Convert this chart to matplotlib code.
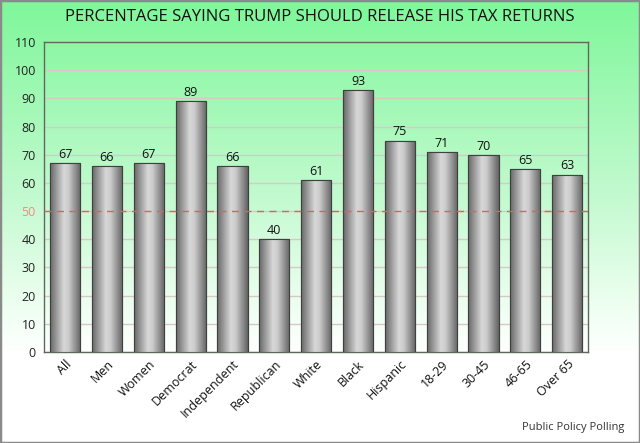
import numpy as np
import matplotlib
matplotlib.use('Agg')
import matplotlib.pyplot as plt
from matplotlib.colors import LinearSegmentedColormap
from matplotlib.patches import Rectangle

categories = ['All', 'Men', 'Women', 'Democrat', 'Independent', 'Republican', 'White',
              'Black', 'Hispanic', '18-29', '30-45', '46-65', 'Over 65']
values = [67, 66, 67, 89, 66, 40, 61, 93, 75, 71, 70, 65, 63]
yticks = list(range(0, 111, 10))
title = 'PERCENTAGE SAYING TRUMP SHOULD RELEASE HIS TAX RETURNS'
source = 'Public Policy Polling'

plt.rcParams['font.family'] = ['Open Sans', 'DejaVu Sans']

fig = plt.figure(figsize=(6.4, 4.43), dpi=100)

# background gradient green -> white
bg = fig.add_axes([0, 0, 1, 1], zorder=-10)
grad = np.linspace(0, 1, 256).reshape(-1, 1)
bg_cmap = LinearSegmentedColormap.from_list('bg', [(0, '#7ef79a'), (0.45, '#c4fad0'),
                                                   (0.7, '#effff2'), (0.8, '#ffffff'), (1, '#ffffff')])
bg.imshow(grad, aspect='auto', cmap=bg_cmap, extent=[0, 1, 0, 1], origin='upper')
bg.set_xlim(0, 1)
bg.set_ylim(0, 1)
bg.axis('off')
bg.add_patch(Rectangle((0, 0), 1, 1, transform=bg.transAxes, fill=False,
                       edgecolor='#8a8a8a', linewidth=2.5))

ax = fig.add_axes([0.069, 0.2054, 0.85, 0.6996])
ax.set_facecolor('none')
x = np.arange(len(categories))
bars = ax.bar(x, values, width=0.72, color='#b0b0b0', edgecolor='#404040', linewidth=0.8, zorder=3)

bar_cmap = LinearSegmentedColormap.from_list('bar', [(0, '#666666'), (0.45, '#d8d8d8'), (0.6, '#cccccc'), (1, '#626262')])
hgrad = np.linspace(0, 1, 256).reshape(1, -1)
for b in bars:
    bx, by = b.get_x(), b.get_y()
    w, h = b.get_width(), b.get_height()
    im = ax.imshow(hgrad, cmap=bar_cmap, aspect='auto', extent=[bx, bx + w, by, by + h], zorder=3.5)
    im.set_clip_path(b)
    ax.add_patch(Rectangle((bx, by), w, h, fill=False, edgecolor='#404040', linewidth=0.8, zorder=4))
    ax.text(bx + w / 2, h + 0.8, str(int(h)), ha='center', va='bottom', fontsize=9, color='#111111', zorder=5)

ax.axhline(50, color='#e06060', linestyle=(0, (5, 4)), linewidth=1, zorder=6)

ax.set_xlim(-0.5, len(categories) - 0.5)
ax.set_ylim(0, 110)
ax.set_yticks(yticks)
ax.set_yticklabels([str(t) for t in yticks], fontsize=9, color='#222222')
for lbl in ax.get_yticklabels():
    if lbl.get_text() == '50':
        lbl.set_color('#e89080')
ax.yaxis.grid(True, color='#d8c8c8', linewidth=1, zorder=1)
ax.set_axisbelow(True)
ax.tick_params(axis='y', length=0, pad=6)
ax.tick_params(axis='x', length=0, pad=4)
ax.set_xticks(x)
ax.set_xticklabels(categories, rotation=45, ha='right', rotation_mode='anchor', fontsize=9, color='#111111')
for s in ax.spines.values():
    s.set_color('#606860')
    s.set_linewidth(1)

fig.text(0.5, 0.962, title, ha='center', va='center', fontsize=12, color='#111111')
fig.text(0.975, 0.022, source, ha='right', va='bottom', fontsize=8, color='#333333')

fig.savefig('out.png', dpi=100)
